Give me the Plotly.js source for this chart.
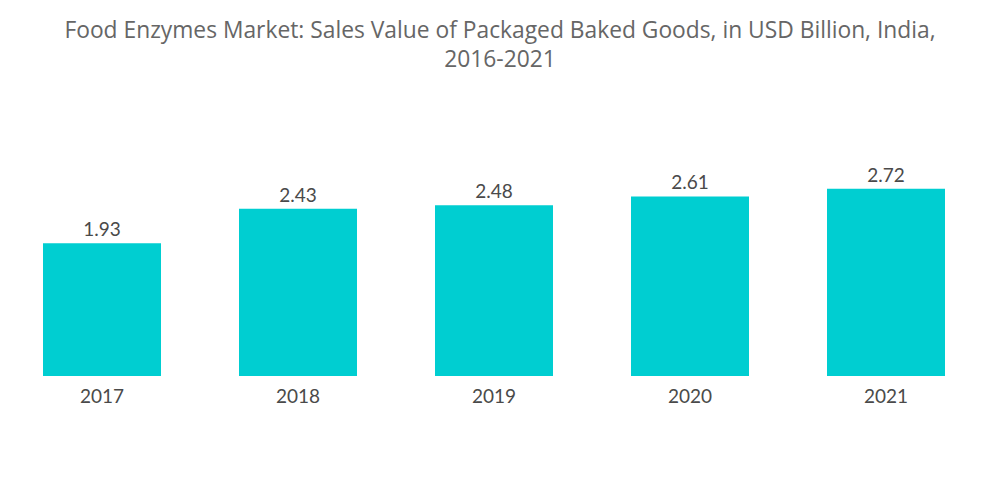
<!DOCTYPE html>
<html><head><meta charset="utf-8">
<script src="https://cdn.plot.ly/plotly-3.0.1.min.js"></script>
<style>body{margin:0;background:#fff}#c{width:1000px;height:504px}</style>
</head><body><div id="c"></div>
<script>
const years = ["2017","2018","2019","2020","2021"];
const values = [1.93, 2.43, 2.48, 2.61, 2.72];
const valueLabels = ["1.93","2.43","2.48","2.61","2.72"];
const titleText = "Food Enzymes Market: Sales Value of Packaged Baked Goods, in USD Billion, India,<br>2016-2021";

Plotly.newPlot("c", [{
  type: "bar",
  x: years,
  y: values,
  text: valueLabels,
  textposition: "outside",
  cliponaxis: false,
  textfont: {family: "Lato, sans-serif", size: 19, color: "#4a4a4a"},
  marker: {color: "#00CED1"},
  hoverinfo: "none"
}], {
  width: 1000, height: 504,
  margin: {l: 4, r: 16, t: 120, b: 128},
  bargap: 0.398,
  paper_bgcolor: "#fff", plot_bgcolor: "#fff",
  title: {text: titleText, x: 0.5, xanchor: "center", y: 0.925, yanchor: "top",
          font: {family: "Open Sans, sans-serif", size: 22.8, color: "#666"}},
  xaxis: {showgrid: false, zeroline: false, showline: false, ticks: "outside", ticklen: 3, tickcolor: "rgba(0,0,0,0)",
          tickfont: {family: "Lato, sans-serif", size: 19, color: "#4a4a4a"}},
  yaxis: {visible: false, range: [0, 3.72]},
  showlegend: false
}, {staticPlot: true});
</script></body></html>
